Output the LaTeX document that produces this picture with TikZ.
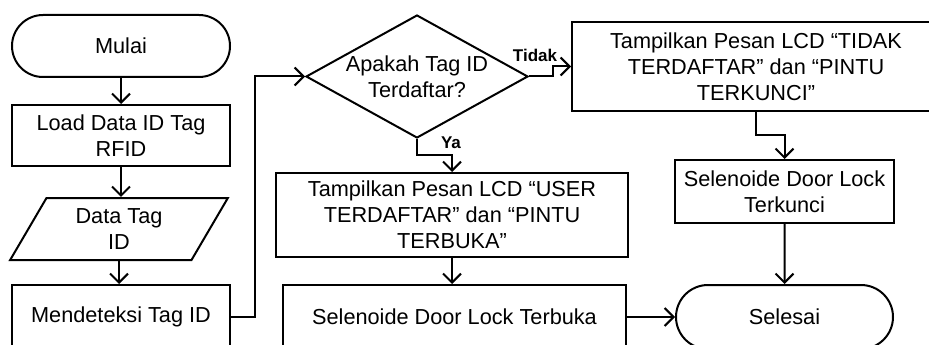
\documentclass[tikz,border=0pt]{standalone}
\usepackage{fontspec}
\setmainfont{Liberation Sans}
\usetikzlibrary{arrows.meta,shapes.geometric,shapes.misc}
\begin{document}
\begin{tikzpicture}[x=1pt,y=-1pt,
  every node/.style={line width=2pt, font=\fontsize{21.7}{26}\selectfont, align=center, inner sep=0pt},
  box/.style={draw, rectangle},
  term/.style={draw, rounded rectangle, minimum width=218pt, minimum height=62pt},
  io/.style={draw, trapezium, trapezium left angle=62, trapezium right angle=118,
             trapezium stretches=true, minimum width=218pt, minimum height=62pt},
  decision/.style={draw, diamond, minimum width=222pt, minimum height=123pt},
  flow/.style={line width=2pt, -{Straight Barb[length=9pt,width=18pt]}},
  lbl/.style={font=\fontsize{17}{20}\selectfont\bfseries}
]
\clip (0,0) rectangle (929,345);

% left column
\node[term] (mulai) at (121,46) {Mulai};
\node[box, minimum width=218pt, minimum height=61pt] (load) at (121,135.5) {Load Data ID Tag\\RFID};
\node[io] (data) at (119,229) {Data Tag\\ID};
\node[box, minimum width=218pt, minimum height=64pt] (detek) at (121,317) {Mendeteksi Tag ID};

% decision
\node[decision, label={[align=center]center:Apakah Tag ID\\Terdaftar?}] (cek) at (417,76.5) {};

% branches
\node[box, minimum width=368pt, minimum height=89pt] (tidak) at (756,66.5)
  {Tampilkan Pesan LCD “TIDAK\\TERDAFTAR” dan “PINTU\\TERKUNCI”};
\node[box, minimum width=352pt, minimum height=84pt] (user) at (452,215)
  {Tampilkan Pesan LCD “USER\\TERDAFTAR” dan “PINTU\\TERBUKA”};
\node[box, minimum width=343pt, minimum height=64pt] (buka) at (454.5,317) {Selenoide Door Lock Terbuka};
\node[box, minimum width=219pt, minimum height=63pt] (kunci) at (784.5,191.5) {Selenoide Door Lock\\Terkunci};
\node[term, minimum width=217pt, minimum height=64pt] (selesai) at (784.5,317) {Selesai};

% branch labels
\node[lbl] (tlbl) at (535,55) {Tidak};
\node[lbl] (ylbl) at (451,143) {Ya};

% connectors
\draw[flow] (mulai) -- (load);
\draw[flow] (load.south) -- (load.south |- data.north);
\draw[flow] (data.south) -- (data.south |- detek.north);
\draw[flow] (detek.east) -- ++(24,0) |- (cek.west);
\draw[flow] (cek.east) -- ++(24,0) |- (tidak.west);
\draw[flow] (cek.south) -- ++(0,16) -| (user.north);
\draw[flow] (user.south) -- (user.south |- buka.north);
\draw[flow] (tidak.south) -- ++(0,23) -| (kunci.north);
\draw[flow] (kunci) -- (selesai);
\draw[flow] (buka) -- (selesai);
\end{tikzpicture}
\end{document}
